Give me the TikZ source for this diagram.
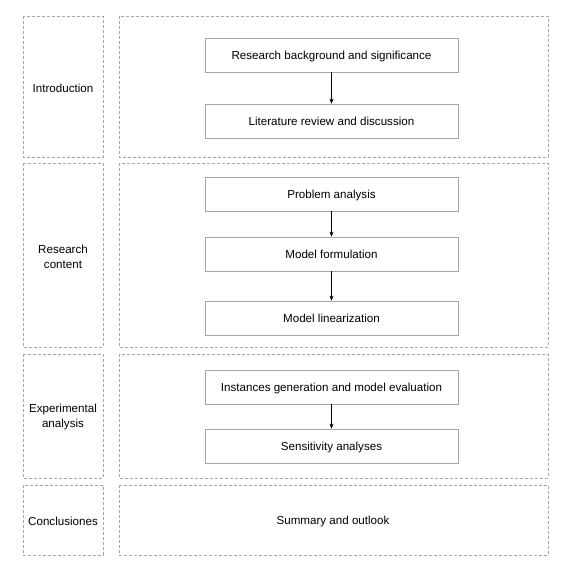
\documentclass[tikz,border=0pt]{standalone}
\usepackage{fontspec}
\setmainfont{Liberation Sans}
\usetikzlibrary{arrows.meta}
\begin{document}
\begin{tikzpicture}[x=1pt,y=-1pt,
  frame/.style={draw=black!35, line width=0.7pt, dash pattern=on 3pt off 2pt},
  stepbox/.style={draw=black!35, line width=0.7pt, minimum width=253pt, minimum height=34pt, inner sep=0pt, text depth=0pt, font=\fontsize{11.6}{15}\selectfont},
  lbl/.style={align=center, font=\fontsize{11.6}{15}\selectfont},
  arr/.style={-{Stealth[length=5pt,width=4pt]}, line width=0.6pt}]
\useasboundingbox (0,0) rectangle (572,572);
% frames
\draw[frame] (23,16) rectangle (103,157);
\draw[frame] (119,16) rectangle (548,157);
\draw[frame] (23,163) rectangle (103,347);
\draw[frame] (119,163) rectangle (548,347);
\draw[frame] (23,354) rectangle (103,478);
\draw[frame] (119,354) rectangle (548,478);
\draw[frame] (23,485) rectangle (103,555);
\draw[frame] (119,485) rectangle (548,555);
% labels
\node[lbl] (l1) at (63,88) {Introduction};
\node[lbl] (l2) at (63,256.5) {Research\\content};
\node[lbl] (l3) at (63,417) {Experimental\\analysis};
\node[lbl] (l4) at (63,521) {Conclusiones};
% steps
\node[stepbox] (a1) at (331.5,55) {Research background and significance};
\node[stepbox] (a2) at (331.5,121) {Literature review and discussion};
\node[stepbox] (b1) at (331.5,194) {Problem analysis};
\node[stepbox] (b2) at (331.5,254) {Model formulation};
\node[stepbox] (b3) at (331.5,318) {Model linearization};
\node[stepbox] (c1) at (331.5,387) {Instances generation and model evaluation};
\node[stepbox] (c2) at (331.5,446) {Sensitivity analyses};
\node[lbl] (d1) at (333,521) {Summary and outlook};
% arrows
\draw[arr] (a1) -- (a2);
\draw[arr] (b1) -- (b2);
\draw[arr] (b2) -- (b3);
\draw[arr] (c1) -- (c2);
\end{tikzpicture}
\end{document}
